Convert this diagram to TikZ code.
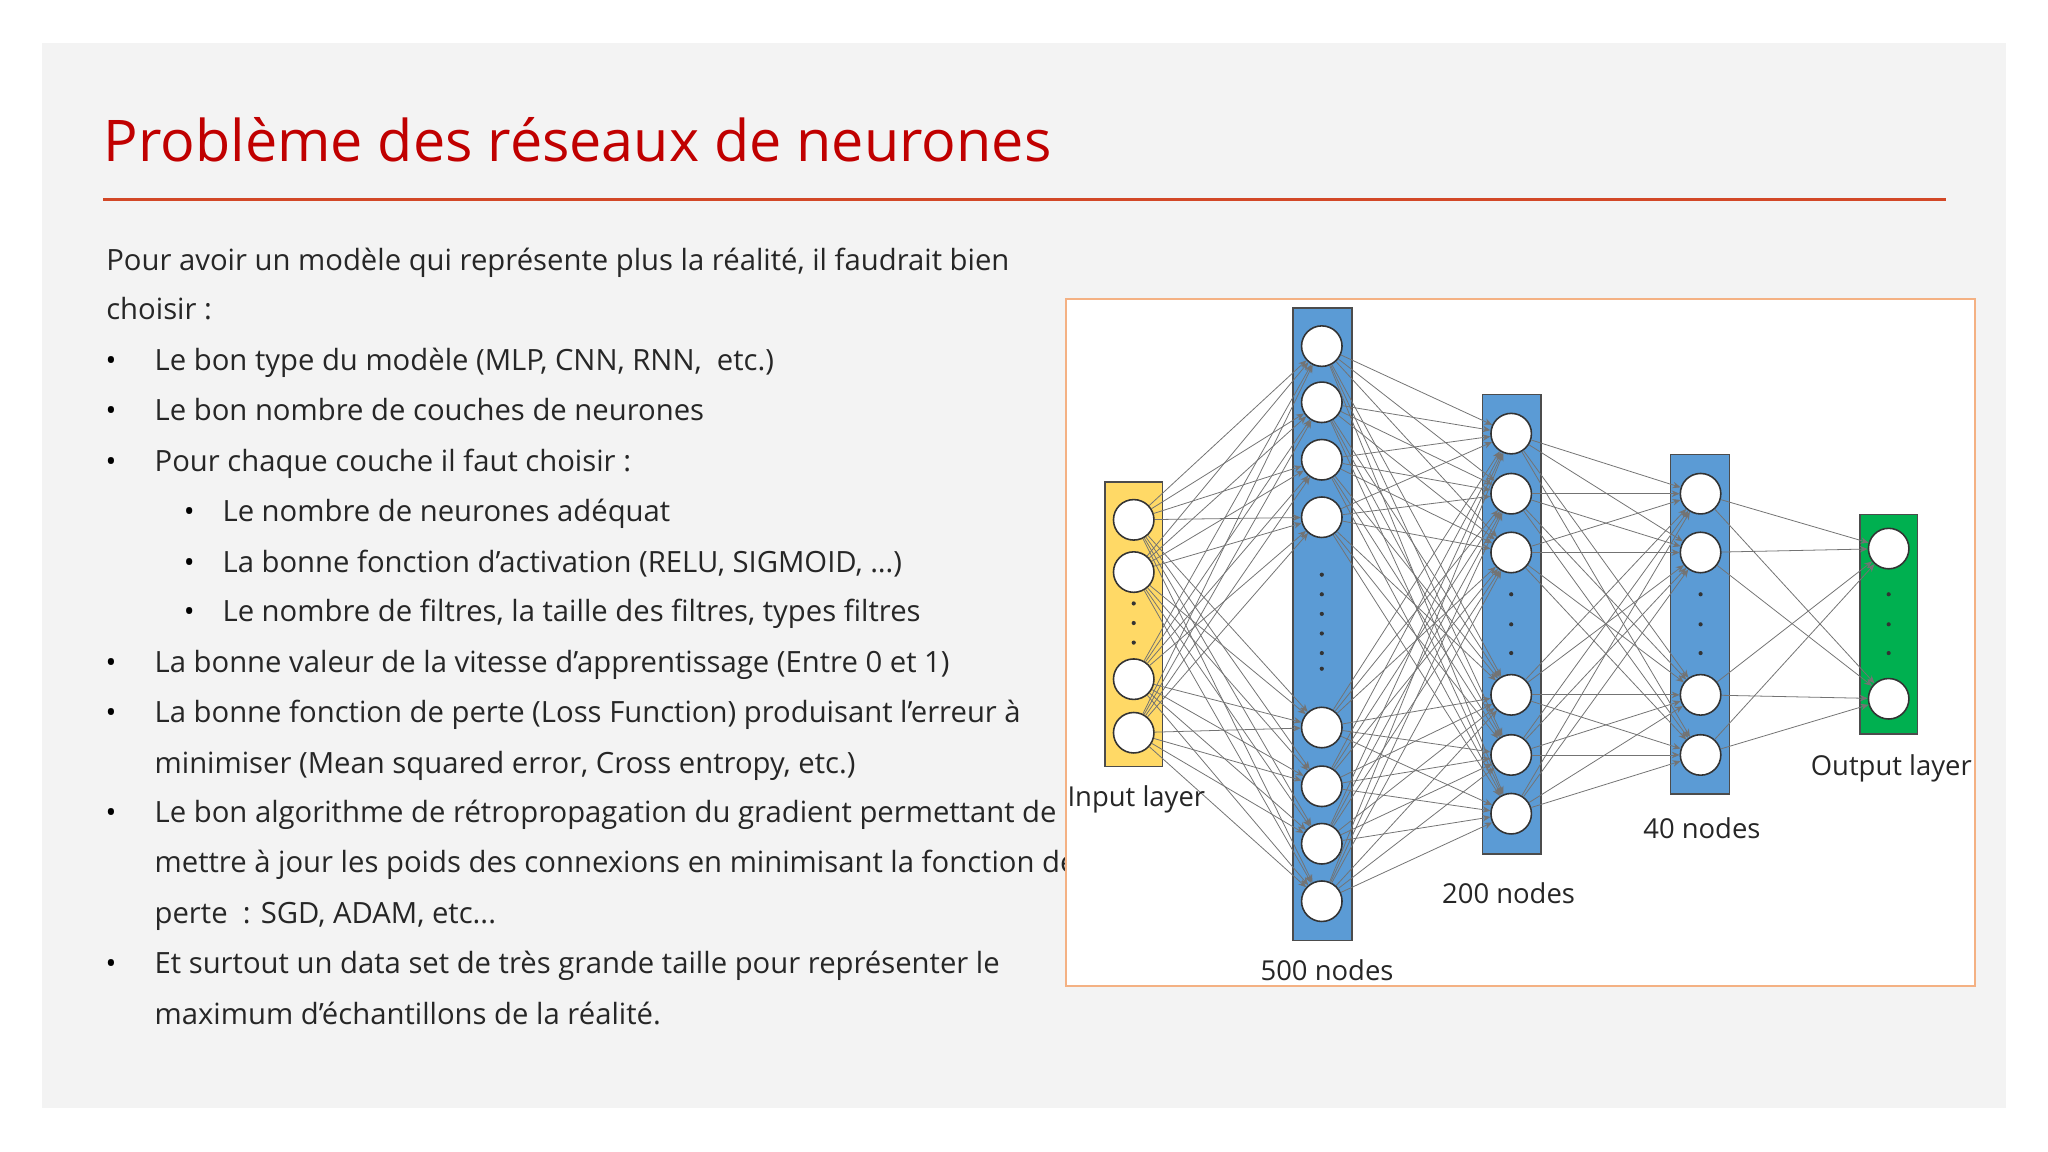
\documentclass[tikz,border=0pt]{standalone}
\usepackage{fontspec}
\setmainfont{Open Sans}
\usetikzlibrary{arrows.meta}
\definecolor{slidebg}{HTML}{F3F3F3}
\definecolor{titlered}{HTML}{C00000}
\definecolor{rulered}{HTML}{D24726}
\definecolor{lyellow}{HTML}{FFD966}
\definecolor{lblue}{HTML}{5B9BD5}
\definecolor{lgreen}{HTML}{00B050}
\definecolor{boxor}{HTML}{F4B183}
\tikzset{
  body/.style={anchor=base west,font=\fontsize{11.2}{13}\selectfont,text=black!85,inner sep=0},
  bul/.style={anchor=base,font=\fontsize{11}{13}\selectfont,inner sep=0},
  layer/.style={draw=black!70,line width=0.6pt},
  neur/.style={circle,draw=black!80,fill=white,line width=0.6pt,minimum size=15.5pt,inner sep=0},
  dotn/.style={circle,fill=black!80,inner sep=0,minimum size=1.6pt},
  conn/.style={draw=black!55,line width=0.3pt,-{Stealth[length=3pt,width=2.5pt]}},
  lab/.style={font=\fontsize{10.5}{12}\selectfont,text=black!85,inner sep=0}
}
\begin{document}
\begin{tikzpicture}[x=0.5pt,y=-0.5pt]
\useasboundingbox (0,0) rectangle (1568,882);
\fill[white] (0,0) rectangle (1568,882);
\fill[slidebg] (32,33) rectangle (1536,848);
\node[anchor=base west,inner sep=0,text=titlered,font=\fontsize{22}{26}\selectfont] (title) at (79,124) {Problème des réseaux de neurones};
\draw[rulered,line width=1.2pt] (79,153) -- (1490,153);
% text
\node[body] (t1) at (81,207) {Pour avoir un modèle qui représente plus la réalité, il faudrait bien};
\node[body] (t2) at (81,245) {choisir :};
\foreach \y/\t in {284/{Le bon type du modèle (MLP, CNN, RNN,~ etc.)},322/{Le bon nombre de couches de neurones},361/{Pour chaque couche il faut choisir :},515/{La bonne valeur de la vitesse d’apprentissage (Entre 0 et 1)},553/{La bonne fonction de perte (Loss Function) produisant l’erreur à},630/{Le bon algorithme de rétropropagation du gradient permettant de},745/{Et surtout un data set de très grande taille pour représenter le}}{
  \node[bul] at (85,\y) {•};
  \node[body] at (118,\y) {\t};
}
\foreach \y/\t in {592/{minimiser (Mean squared error, Cross entropy, etc.)},668/{mettre à jour les poids des connexions en minimisant la fonction de},707/{perte~ : SGD, ADAM, etc...},784/{maximum d’échantillons de la réalité.}}{
  \node[body] at (118,\y) {\t};
}
\foreach \y/\t in {399/{Le nombre de neurones adéquat},438/{La bonne fonction d’activation (RELU, SIGMOID, …)},476/{Le nombre de filtres, la taille des filtres, types filtres}}{
  \node[bul] at (145,\y) {•};
  \node[body] at (170,\y) {\t};
}
% diagram box
\draw[boxor,fill=white,line width=0.6pt] (816,229) rectangle (1512,755);
\draw[layer,fill=lyellow] (846,369) rectangle (890,587);
\draw[layer,fill=lblue] (990,236) rectangle (1035,720);
\draw[layer,fill=lblue] (1135,302) rectangle (1180,654);
\draw[layer,fill=lblue] (1279,348) rectangle (1324,608);
\draw[layer,fill=lgreen] (1424,394) rectangle (1468,562);
% neurons
\foreach \y [count=\i] in {398,438,520,561}{\node[neur] (a\i) at (868,\y) {};}
\foreach \y [count=\i] in {265,308,352,396,557,602,646,690}{\node[neur] (b\i) at (1012,\y) {};}
\foreach \y [count=\i] in {332,378,423,532,578,623}{\node[neur] (c\i) at (1157,\y) {};}
\foreach \y [count=\i] in {378,423,532,578}{\node[neur] (d\i) at (1302,\y) {};}
\foreach \y [count=\i] in {420,535}{\node[neur] (e\i) at (1446,\y) {};}
% dots
\foreach \y [count=\i] in {462,477,492}{\node[dotn] (ad\i) at (868,\y) {};}
\foreach \y [count=\i] in {440,455,470,485,500,512}{\node[dotn] (bd\i) at (1012,\y) {};}
\foreach \y [count=\i] in {455,478,500}{\node[dotn] (cd\i) at (1157,\y) {};}
\foreach \y [count=\i] in {455,478,500}{\node[dotn] (dd\i) at (1302,\y) {};}
\foreach \y [count=\i] in {455,478,500}{\node[dotn] (ed\i) at (1446,\y) {};}
% connections
\foreach \i in {1,...,4}{\foreach \j in {1,...,8}{\draw[conn] (a\i) -- (b\j);}}
\foreach \i in {1,...,8}{\foreach \j in {1,...,6}{\draw[conn] (b\i) -- (c\j);}}
\foreach \i in {1,...,6}{\foreach \j in {1,...,4}{\draw[conn] (c\i) -- (d\j);}}
\foreach \i in {1,...,4}{\foreach \j in {1,...,2}{\draw[conn] (d\i) -- (e\j);}}
% labels
\node[lab] (l1) at (870,612) {Input layer};
\node[lab] (l2) at (1016,743) {500 nodes};
\node[lab] (l3) at (1155,684) {200 nodes};
\node[lab] (l4) at (1303,634) {40 nodes};
\node[lab] (l5) at (1448,588) {Output layer};
\end{tikzpicture}
\end{document}
